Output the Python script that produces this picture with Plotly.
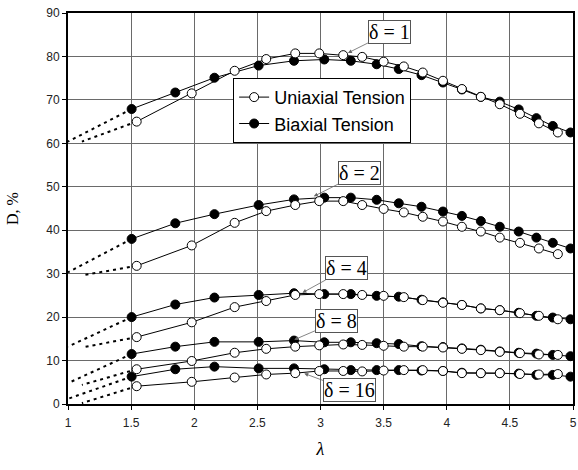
import plotly.graph_objects as go

deltas = [1, 2, 4, 8, 16]

# lambda values of the measured points
lam_uni = [1.544, 1.98, 2.32, 2.57, 2.80, 2.99, 3.18, 3.33, 3.50, 3.66, 3.81, 3.97, 4.12, 4.27, 4.42, 4.58, 4.73, 4.88]
lam_bi = [1.504, 1.85, 2.16, 2.51, 2.79, 3.03, 3.24, 3.445, 3.62, 3.80, 3.97, 4.12, 4.27, 4.42, 4.57, 4.71, 4.84, 4.98]

# D, % - uniaxial tension
D_uni_1 = [65.0, 71.5, 76.7, 79.4, 80.7, 80.7, 80.3, 79.9, 78.8, 77.7, 76.3, 74.4, 72.5, 70.7, 69.0, 66.8, 64.6, 62.5]
D_uni_2 = [31.8, 36.5, 41.7, 44.4, 45.8, 46.7, 46.7, 45.8, 44.9, 44.1, 43.1, 42.0, 40.8, 39.7, 38.3, 37.1, 35.8, 34.5]
D_uni_4 = [15.4, 18.8, 22.3, 23.7, 25.1, 25.3, 25.3, 25.1, 24.9, 24.6, 23.9, 23.3, 22.8, 22.0, 21.6, 20.9, 20.3, 19.5]
D_uni_8 = [8.0, 9.9, 11.8, 12.7, 13.2, 13.5, 13.7, 13.6, 13.4, 13.2, 13.2, 13.0, 12.7, 12.4, 12.0, 11.7, 11.4, 11.3]
D_uni_16 = [4.1, 5.1, 6.1, 6.8, 7.1, 7.6, 7.6, 7.5, 7.7, 7.8, 7.8, 7.6, 7.1, 7.1, 7.1, 6.9, 6.8, 6.9]

# D, % - biaxial tension
D_bi_1 = [67.9, 71.7, 75.1, 77.9, 79.0, 79.3, 79.0, 78.2, 77.1, 75.7, 74.0, 72.4, 70.7, 69.6, 67.8, 65.8, 64.0, 62.5]
D_bi_2 = [38.0, 41.6, 43.7, 45.8, 47.1, 47.5, 47.5, 47.0, 46.2, 45.4, 44.3, 43.3, 42.1, 40.8, 39.7, 38.3, 37.1, 35.8]
D_bi_4 = [20.0, 22.9, 24.5, 25.1, 25.5, 25.3, 25.3, 24.9, 24.7, 24.0, 23.4, 22.8, 22.0, 21.6, 21.0, 20.3, 19.9, 19.5]
D_bi_8 = [11.5, 13.2, 14.3, 14.3, 14.6, 14.2, 14.2, 14.0, 13.8, 13.3, 13.1, 12.8, 12.5, 12.1, 11.8, 11.6, 11.3, 11.0]
D_bi_16 = [6.3, 8.0, 8.6, 8.2, 8.2, 8.0, 7.8, 7.8, 7.8, 7.7, 7.6, 7.2, 7.1, 7.1, 7.0, 6.7, 6.7, 6.3]

# dotted extrapolations towards lambda = 1
ext_lam_uni = [1.544, 1.11]
ext_lam_bi = [1.504, 1.0]
ext_uni_1 = [65.0, 60.4]
ext_bi_1 = [67.9, 60.4]
ext_uni_2 = [31.8, 29.6]
ext_bi_2 = [38.0, 30.3]
ext_uni_4 = [15.4, 13.0]
ext_bi_4 = [20.0, 13.2]
ext_uni_8 = [8.0, 4.4]
ext_bi_8 = [11.5, 4.8]
ext_uni_16 = [4.1, 0.2]
ext_bi_16 = [6.3, 1.2]

D_uni = [D_uni_1, D_uni_2, D_uni_4, D_uni_8, D_uni_16]
D_bi = [D_bi_1, D_bi_2, D_bi_4, D_bi_8, D_bi_16]
E_uni = [ext_uni_1, ext_uni_2, ext_uni_4, ext_uni_8, ext_uni_16]
E_bi = [ext_bi_1, ext_bi_2, ext_bi_4, ext_bi_8, ext_bi_16]

x_ticks = [1, 1.5, 2, 2.5, 3, 3.5, 4, 4.5, 5]
y_ticks = list(range(0, 91, 10))

fig = go.Figure()

dot_line = dict(color="black", width=2, dash="3px,4px")
for i in range(len(deltas)):
    fig.add_trace(go.Scatter(x=ext_lam_bi, y=E_bi[i], mode="lines", line=dot_line,
                             showlegend=False, hoverinfo="skip"))
    fig.add_trace(go.Scatter(x=ext_lam_uni, y=E_uni[i], mode="lines", line=dot_line,
                             showlegend=False, hoverinfo="skip"))

for i in range(len(deltas)):
    fig.add_trace(go.Scatter(
        x=lam_bi, y=D_bi[i], mode="lines+markers",
        name="Biaxial Tension", legendgroup="bi", legendrank=2, showlegend=(i == 0),
        line=dict(color="black", width=1),
        marker=dict(symbol="circle", size=9, color="black", line=dict(color="black", width=1))))
for i in range(len(deltas)):
    fig.add_trace(go.Scatter(
        x=lam_uni, y=D_uni[i], mode="lines+markers",
        name="Uniaxial Tension", legendgroup="uni", legendrank=1, showlegend=(i == 0),
        line=dict(color="black", width=1),
        marker=dict(symbol="circle", size=9, color="white", line=dict(color="black", width=1))))

# labels: (text anchor x, y), arrow target (x, y)
label_pos = [(3.548, 85.6, 3.21, 80.7),
             (3.31, 53.1, 2.94, 47.7),
             (3.207, 31.2, 2.85, 25.5),
             (3.128, 19.0, 2.785, 14.7),
             (3.227, 3.2, 2.864, 7.1)]
for d, (tx, ty, px, py) in zip(deltas, label_pos):
    fig.add_annotation(
        x=px, y=py, ax=tx, ay=ty, axref="x", ayref="y", xref="x", yref="y",
        text="δ = %d" % d, showarrow=True, arrowhead=2, arrowsize=1, arrowwidth=0.8,
        arrowcolor="#666", standoff=1,
        font=dict(family="Liberation Serif, Times New Roman, serif", size=20, color="black"),
        bgcolor="white", bordercolor="#555", borderwidth=1, borderpad=0)

axis_common = dict(showline=True, linewidth=2, linecolor="black", mirror=True,
                   showgrid=True, gridcolor="#6a6a6a", gridwidth=1, zeroline=False,
                   ticks="outside", ticklen=4, tickcolor="black", automargin=False,
                   ticklabeloverflow="allow",
                   tickfont=dict(family="Liberation Sans, Arial, sans-serif", size=12, color="#222"))

fig.update_xaxes(range=[1, 5], tickvals=x_ticks, ticktext=[str(v) for v in x_ticks],
                 ticklabelstandoff=3,
                 title=dict(text="<i>λ</i>", standoff=13,
                            font=dict(family="Liberation Serif, Times New Roman, serif", size=18, color="black")),
                 **axis_common)
fig.update_yaxes(range=[0, 90], tickvals=y_ticks,
                 title=dict(text="D, %", standoff=24,
                            font=dict(family="Liberation Serif, Times New Roman, serif", size=16, color="black")),
                 **axis_common)

fig.update_layout(
    width=578, height=470,
    margin=dict(l=68, r=5, t=13, b=66),
    plot_bgcolor="white", paper_bgcolor="white",
    showlegend=True,
    legend=dict(x=0.327, y=0.834, xanchor="left", yanchor="top",
                bgcolor="white", bordercolor="black", borderwidth=1,
                traceorder="grouped", tracegroupgap=0, itemwidth=30,
                font=dict(family="Liberation Sans, Arial, sans-serif", size=18, color="black")),
)

fig.write_html("out.html", config={"displayModeBar": False})

# remove the default 8 px page margin so the figure fills the window exactly
with open("out.html", "r", encoding="utf-8") as f:
    html = f.read()
html = html.replace("<body>", '<body style="margin:0;padding:0;overflow:hidden">', 1)
with open("out.html", "w", encoding="utf-8") as f:
    f.write(html)
